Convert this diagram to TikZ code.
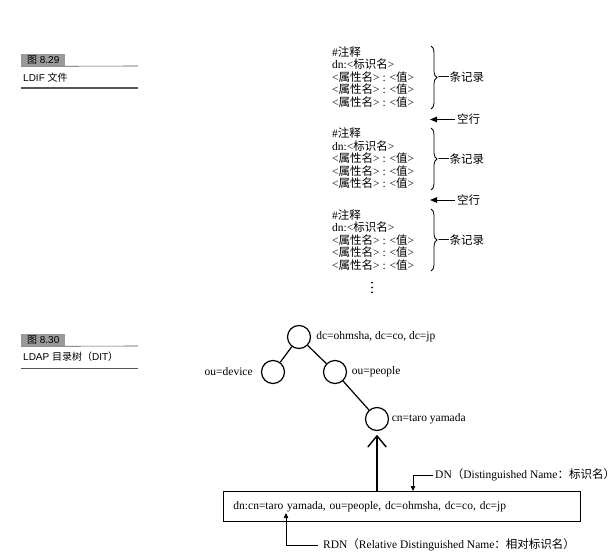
\documentclass[tikz,border=0pt]{standalone}
\usepackage{fontspec}
\setmainfont{Liberation Serif}
\setsansfont{Liberation Sans}
\newfontfamily\cjk{Noto Sans CJK SC}
\usepackage{tikz}
\usetikzlibrary{arrows.meta, positioning, decorations.pathreplacing}
\definecolor{lbgray}{HTML}{9A9A9A}
\definecolor{lbline}{HTML}{555555}
\newcommand{\zh}[1]{{\cjk #1}}
\newcommand{\ldifrec}{\#\zh{注释}\\dn:<\zh{标识名}>\\<\zh{属性名}> : <\zh{值}>\\<\zh{属性名}> : <\zh{值}>\\<\zh{属性名}> : <\zh{值}>}

\begin{document}
\begin{tikzpicture}[
  x=1pt, y=-1pt,
  record/.style={anchor=west, align=left, inner sep=0pt, font=\fontsize{11.5}{12.5}\selectfont},
  recbrace/.style={decorate, decoration={brace, amplitude=6pt}, line width=0.8pt},
  note/.style={anchor=west, inner sep=0pt, font=\fontsize{11.5}{13}\selectfont\cjk},
  gap/.style={-{Triangle[length=7pt, width=5.5pt]}, line width=1pt, shorten <=2pt},
  entry/.style={circle, draw, line width=1.2pt, minimum size=23pt, inner sep=0pt},
  dnlabel/.style={inner sep=0pt, font=\fontsize{11.5}{13}\selectfont},
  dnrow/.style={draw, line width=0.9pt, anchor=north west, align=left, text width=337pt,
    inner xsep=10pt, inner ysep=0pt, minimum height=30pt, font=\fontsize{11.5}{13}\selectfont},
  pointer/.style={-{Triangle[length=5pt, width=4.5pt]}, line width=0.7pt},
  figno/.style={anchor=north west, fill=lbgray, minimum width=44pt, minimum height=12pt,
    inner sep=0pt, font=\sffamily\fontsize{10}{11}\selectfont},
  figcap/.style={anchor=west, inner sep=0pt, font=\sffamily\fontsize{10}{11}\selectfont},
]
  \useasboundingbox (0,0) rectangle (615,556);

  % figure captions
  \node[figno] (fig29) at (21,54) {\zh{图} 8.29};
  \draw[lbline, line width=0.6pt] (fig29.south west) -- (138,66);
  \node[figcap] (cap29) at (23,78) {LDIF \zh{文件}};
  \draw[lbline, line width=1.2pt] (21,88) -- (138,88);

  \node[figno] (fig30) at (21,334) {\zh{图} 8.30};
  \draw[lbline, line width=0.6pt] (fig30.south west) -- (138,346);
  \node[figcap] (cap30) at (23,357) {LDAP \zh{目录树（}DIT\zh{）}};
  \draw[lbline, line width=1.2pt] (21,368.5) -- (138,368.5);

  % LDIF records
  \node[record] (rec1) at (332,76.7) {\ldifrec};
  \draw[recbrace] (431,46) -- (431,109);
  \node[note] (one1) at (438,77.5) {一条记录};
  \node[note] (gap1) at (457,119.5) {空行};
  \coordinate (gapend1) at (430,119.5);
  \draw[gap] (gap1.west) -- (gapend1);

  \node[record] (rec2) at (332,158.3) {\ldifrec};
  \draw[recbrace] (431,128) -- (431,190);
  \node[note] (one2) at (438,159) {一条记录};
  \node[note] (gap2) at (457,200) {空行};
  \coordinate (gapend2) at (430,200);
  \draw[gap] (gap2.west) -- (gapend2);

  \node[record] (rec3) at (332,240) {\ldifrec};
  \draw[recbrace] (431,209) -- (431,271);
  \node[note] (one3) at (438,240.5) {一条记录};

  \fill (372,282.7) circle (1pt) (372,287.5) circle (1pt) (372,292.3) circle (1pt);

  % directory tree
  \node[entry] (root) at (299,337) {};
  \node[entry] (dev) at (273,372) {};
  \node[entry] (ppl) at (335,372) {};
  \node[entry] (taro) at (377,419) {};
  \node[dnlabel, right=5pt of root] (rootlb) {dc=ohmsha, dc=co, dc=jp};
  \node[dnlabel, left=8pt of dev] (devlb) {ou=device};
  \node[dnlabel, right=4.5pt of ppl] (ppllb) {ou=people};
  \node[dnlabel, right=2.5pt of taro] (tarolb) {cn=taro yamada};
  \draw[line width=1.2pt] (root) -- (dev);
  \draw[line width=1.2pt] (root) -- (ppl) -- (taro);

  \node[dnrow] (dnbox) at (223,491) {dn:cn=taro yamada, ou=people, dc=ohmsha, dc=co, dc=jp};
  \draw[-{Straight Barb[length=11pt, width=18pt, line width=1.4pt, round]}, line width=1.2pt, shorten >=4pt]
    (dnbox.north -| taro) -- (taro.south);

  \coordinate (dnbend) at (413,475);
  \node[dnlabel, anchor=west] (dntext) at (435,475) {DN\zh{（}Distinguished Name\zh{：标识名）}};
  \draw[pointer, shorten <=2pt] (dntext.west) -- (dnbend) -- (dnbend |- dnbox.north);

  \coordinate (rdnbend) at (286,545);
  \coordinate (rdntip) at (286,513);
  \node[dnlabel, anchor=west] (rdntext) at (323,545) {RDN\zh{（}Relative Distinguished Name\zh{：相对标识名）}};
  \draw[pointer, shorten <=5pt] (rdntext.west) -- (rdnbend) -- (rdntip);
\end{tikzpicture}
\end{document}
